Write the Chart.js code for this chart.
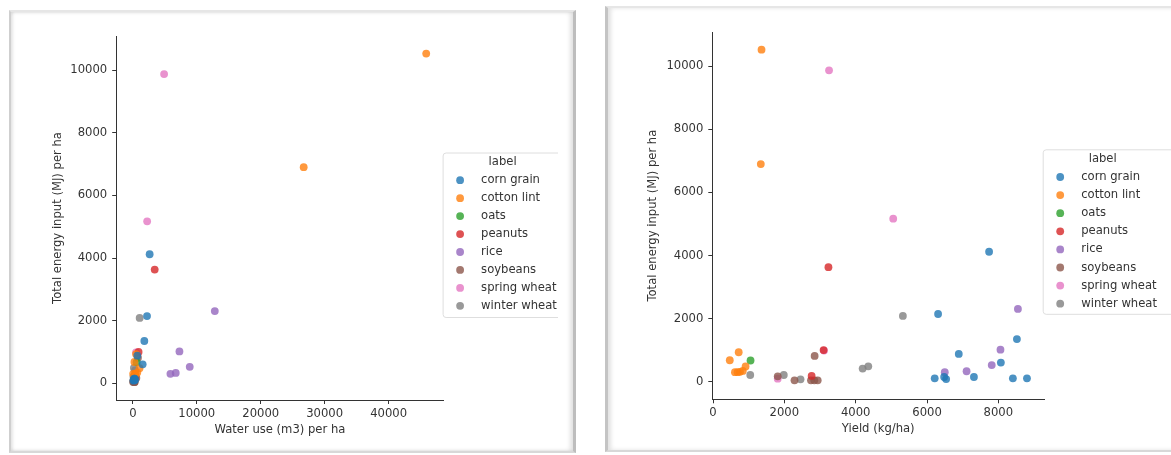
<!DOCTYPE html>
<html>
<head>
<meta charset="utf-8">
<script src="https://cdn.jsdelivr.net/npm/chart.js@4.4.1/dist/chart.umd.min.js"></script>
<style>
  html, body { margin: 0; padding: 0; background: #ffffff; width: 1171px; height: 455px; overflow: hidden; position: relative; }
  .frame { position: absolute; background: #ffffff; box-sizing: border-box; }
  #frameA { left: 9px; top: 10px; width: 567px; height: 443px;
    border-top: 2px solid #e6e6e6; border-bottom: 2px solid #d8d8d8;
    border-left: 2px solid #cfcfcf; border-right: 3px solid #bdbdbd;
    box-shadow: inset 2px 0 3px rgba(0,0,0,0.10), inset -3px 0 4px rgba(0,0,0,0.12); }
  #frameB { left: 605px; top: 6px; width: 600px; height: 446px;
    border-top: 2px solid #e6e6e6; border-bottom: 2px solid #d8d8d8;
    border-left: 3px solid #c4c4c4;
    box-shadow: inset 3px 0 4px rgba(0,0,0,0.12); }
  canvas { position: absolute; }
  #waterChart { left: 11px; top: 12px; }
  #yieldChart { left: 608px; top: 8px; }
</style>
</head>
<body>
<div class="frame" id="frameA"></div>
<div class="frame" id="frameB"></div>
<canvas id="waterChart" width="547" height="439"></canvas>
<canvas id="yieldChart" width="563" height="443"></canvas>
<script>
// Crop categories and their colours
const crops = ['corn grain', 'cotton lint', 'oats', 'peanuts', 'rice', 'soybeans', 'spring wheat', 'winter wheat'];
const cropColors = ['31,119,180', '255,127,14', '44,160,44', '214,39,40', '148,103,189', '140,86,75', '227,119,194', '127,127,127'];

// Per-crop observations: yield (kg/ha), water use (m3/ha), total energy input (MJ/ha)
const cornYield   = [7740, 6310, 8520, 6890, 8070, 6480, 7315, 6215, 6536, 8407, 8802];
const cornWater   = [2630, 2220, 1800, 700, 1540, 300, 200, 150, 100, 250, 350];
const cornEnergy  = [4120, 2145, 1350, 880, 605, 147, 147, 105, 83, 105, 105];

const cottonYield  = [1360, 1340, 470, 720, 615, 690, 757, 835, 913];
const cottonWater  = [45880, 26720, 250, 500, 50, 350, 450, 700, 1050];
const cottonEnergy = [10530, 6900, 678, 933, 300, 300, 310, 340, 480];

const oatsYield  = [1052];
const oatsWater  = [600];
const oatsEnergy = [670];

const peanutsYield  = [3236, 3100, 2765];
const peanutsWater  = [3420, 900, 300];
const peanutsEnergy = [3630, 1000, 180];

const riceYield  = [8548, 8059, 7814, 7109, 6497];
const riceWater  = [12820, 7290, 8900, 6710, 5880];
const riceEnergy = [2305, 1015, 525, 330, 300];

const soyYield  = [1814, 2285, 2849, 2746, 2840, 2935];
const soyWater  = [550, 200, 800, 300, 50, 250];
const soyEnergy = [169, 41, 815, 41, 41, 41];

const springYield  = [3253, 5052, 3112, 1814];
const springWater  = [4890, 2240, 500, 200];
const springEnergy = [9873, 5170, 987, 95];

const winterYield  = [5323, 1044, 1984, 2454, 4195, 4353];
const winterWater  = [1070, 100, 300, 50, 350, 170];
const winterEnergy = [2085, 210, 210, 73, 414, 487];

// Axis tick values
const energyTicks = [0, 2000, 4000, 6000, 8000, 10000];
const waterTicks  = [0, 10000, 20000, 30000, 40000];
const yieldTicks  = [0, 2000, 4000, 6000, 8000];

const yieldByCrop  = [cornYield, cottonYield, oatsYield, peanutsYield, riceYield, soyYield, springYield, winterYield];
const waterByCrop  = [cornWater, cottonWater, oatsWater, peanutsWater, riceWater, soyWater, springWater, winterWater];
const energyByCrop = [cornEnergy, cottonEnergy, oatsEnergy, peanutsEnergy, riceEnergy, soyEnergy, springEnergy, winterEnergy];

const FONT = { family: '"DejaVu Sans", sans-serif', size: 11.6 };
const TEXT = '#333333';
const AXIS = '#333333';

function buildDatasets(xByCrop) {
  return crops.map((name, i) => ({
    label: name,
    data: xByCrop[i].map((x, k) => ({ x: x, y: energyByCrop[i][k] })),
    backgroundColor: 'rgba(' + cropColors[i] + ',0.8)',
    borderWidth: 0,
    pointRadius: 3.9,
    pointHoverRadius: 3.9
  }));
}

// Boxed legend with a title, placed to the right of the plot area
const boxedLegend = {
  id: 'boxedLegend',
  afterDraw(chart, args, opts) {
    const ctx = chart.ctx;
    const x0 = chart.chartArea.right + opts.dx;
    const y0 = opts.top;
    ctx.save();
    ctx.beginPath();
    ctx.roundRect(x0 + 0.5, y0 + 0.5, opts.width, opts.height, 3);
    ctx.fillStyle = 'rgba(255,255,255,0.8)';
    ctx.fill();
    ctx.strokeStyle = '#dedede';
    ctx.lineWidth = 1;
    ctx.stroke();
    ctx.font = FONT.size + 'px ' + FONT.family;
    ctx.textBaseline = 'middle';
    ctx.fillStyle = TEXT;
    ctx.textAlign = 'center';
    ctx.fillText(opts.title, x0 + opts.titleDx, y0 + opts.titleDy);
    chart.data.datasets.forEach((ds, i) => {
      const y = y0 + opts.rowTop + i * opts.rowGap;
      ctx.beginPath();
      ctx.arc(x0 + opts.markerDx, y, 3.9, 0, Math.PI * 2);
      ctx.fillStyle = ds.backgroundColor;
      ctx.fill();
      ctx.fillStyle = TEXT;
      ctx.textAlign = 'left';
      ctx.fillText(ds.label, x0 + opts.textDx, y);
    });
    ctx.restore();
  }
};

function makeChart(canvasId, xByCrop, cfg) {
  return new Chart(document.getElementById(canvasId), {
    type: 'scatter',
    data: { datasets: buildDatasets(xByCrop) },
    plugins: [boxedLegend],
    options: {
      responsive: false,
      animation: false,
      events: [],
      layout: { padding: cfg.padding },
      plugins: {
        legend: { display: false },
        tooltip: { enabled: false },
        boxedLegend: cfg.legend
      },
      scales: {
        x: {
          type: 'linear',
          min: cfg.xMin, max: cfg.xMax,
          afterBuildTicks: (s) => { s.ticks = cfg.xTicks.map(v => ({ value: v })); },
          afterFit: (s) => { s.height = cfg.xHeight; s.paddingLeft = 0; s.paddingRight = 0; },
          border: { display: true, color: AXIS, width: 1 },
          grid: { drawOnChartArea: false, drawTicks: true, tickLength: 4, color: AXIS },
          ticks: { color: TEXT, font: FONT, padding: 3, maxRotation: 0, callback: v => String(v) },
          title: { display: true, text: cfg.xTitle, color: TEXT, font: FONT }
        },
        y: {
          type: 'linear',
          min: cfg.yMin, max: cfg.yMax,
          afterBuildTicks: (s) => { s.ticks = energyTicks.map(v => ({ value: v })); },
          afterFit: (s) => { s.width = cfg.yWidth; s.paddingTop = 0; s.paddingBottom = 0; },
          border: { display: true, color: AXIS, width: 1 },
          grid: { drawOnChartArea: false, drawTicks: true, tickLength: 4, color: AXIS },
          ticks: { color: TEXT, font: FONT, padding: 5, callback: v => String(v) },
          title: { display: true, text: 'Total energy input (MJ) per ha', color: TEXT, font: FONT }
        }
      }
    }
  });
}

makeChart('waterChart', waterByCrop, {
  padding: { left: 35.6, top: 24, right: 114.4, bottom: 10 },
  yWidth: 69.6, xHeight: 41,
  xMin: -2600, xMax: 48600, yMin: -535, yMax: 11090,
  xTicks: waterTicks, xTitle: 'Water use (m3) per ha',
  legend: { title: 'label', dx: -1, top: 140.5, width: 150, height: 164.5,
            titleDx: 60, titleDy: 9.5, markerDx: 17.5, textDx: 38.5, rowTop: 27.7, rowGap: 17.95 }
});

makeChart('yieldChart', yieldByCrop, {
  padding: { left: 34.5, top: 24, right: 126.8, bottom: 11 },
  yWidth: 69.8, xHeight: 40.7,
  xMin: -20, xMax: 9285, yMin: -560, yMax: 11090,
  xTicks: yieldTicks, xTitle: 'Yield (kg/ha)',
  legend: { title: 'label', dx: -1.5, top: 141.3, width: 150, height: 164.5,
            titleDx: 60, titleDy: 9.5, markerDx: 17.5, textDx: 38.5, rowTop: 27.7, rowGap: 18.1 }
});
</script>
</body>
</html>
